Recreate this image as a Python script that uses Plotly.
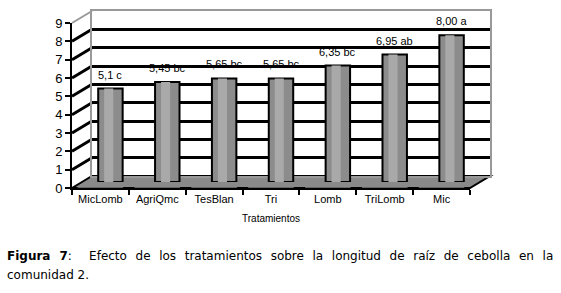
import plotly.graph_objects as go

categories = ["MicLomb", "AgriQmc", "TesBlan", "Tri", "Lomb", "TriLomb", "Mic"]
values = [5.1, 5.45, 5.65, 5.65, 6.35, 6.95, 8.00]
labels = ["5,1 c", "5,45 bc", "5,65 bc", "5,65 bc", "6,35 bc", "6,95 ab", "8,00 a"]
y_ticks = list(range(0, 10))

W, H = 561, 293
FX0, FX1 = 72, 470      # front plane x pixels
FY0, FY9 = 188, 23      # front plane y pixels for 0 and 9
DX, DY = 20, 12         # depth offset (pixels)
YMAX = 9

def px(x):
    return x / W

def py(y):
    return 1 - y / H

def val_to_py(v, depth=0.0):
    return FY0 + (FY9 - FY0) * v / YMAX - DY * depth

fig = go.Figure()

# front axes (ticks, labels)
fig.add_trace(go.Bar(x=categories, y=[0] * len(categories), xaxis="x", yaxis="y",
                     showlegend=False, hoverinfo="skip", marker_color="rgba(0,0,0,0)"))
# back wall (grid)
fig.add_trace(go.Scatter(x=[0, 7], y=[0, 0], xaxis="x2", yaxis="y2", mode="none",
                         showlegend=False, hoverinfo="skip"))
# bars at mid depth
fig.add_trace(go.Bar(x=categories, y=values, xaxis="x3", yaxis="y3", width=0.43,
                     marker=dict(color="#8c8c8c", line=dict(color="black", width=2)),
                     showlegend=False))
fig.add_trace(go.Bar(x=categories, y=values, xaxis="x3", yaxis="y3", width=0.16,
                     offset=-0.11,
                     marker=dict(color="#a9a9a9", line=dict(width=0)),
                     showlegend=False, hoverinfo="skip"))

annotations = []
for c, v, t in zip(categories, values, labels):
    annotations.append(dict(xref="x3", yref="y3", x=c, y=v, text=t, showarrow=False,
                            yanchor="bottom", yshift=6,
                            font=dict(family="Liberation Sans", size=11, color="black")))

layout = dict(
    width=W, height=H, margin=dict(l=0, r=0, t=0, b=0, autoexpand=False),
    paper_bgcolor="white", plot_bgcolor="rgba(0,0,0,0)",
    barmode="overlay",
    xaxis=dict(domain=[px(FX0), px(FX1)], type="category", tickson="boundaries",
               ticks="outside", ticklen=5, tickwidth=2, tickcolor="black",
               showline=True, linecolor="black", linewidth=2, showgrid=False,
               tickfont=dict(family="Liberation Sans", size=11, color="black"),
               title=dict(text="Tratamientos", font=dict(family="Liberation Sans", size=10, color="black"),
                          standoff=11),
               anchor="y", fixedrange=True, automargin=False),
    yaxis=dict(domain=[py(FY0), py(FY9)], range=[0, YMAX], tickvals=y_ticks,
               ticks="outside", ticklen=5, tickwidth=2, tickcolor="black",
               showline=True, linecolor="black", linewidth=2, showgrid=False,
               zeroline=False, tickfont=dict(family="Liberation Sans", size=13, color="black"),
               anchor="x", fixedrange=True, automargin=False),
    xaxis2=dict(domain=[px(FX0 + DX), px(FX1 + DX)], range=[0, 7], showticklabels=False,
                showgrid=False, zeroline=False, showline=True, linecolor="#999999",
                linewidth=2, mirror=True, ticks="", anchor="y2", fixedrange=True,
                automargin=False),
    yaxis2=dict(domain=[py(FY0 - DY), py(FY9 - DY)], range=[0, YMAX],
                tickvals=y_ticks[1:-1], showticklabels=False, showgrid=True,
                gridcolor="black", gridwidth=3, zeroline=False, showline=True,
                linecolor="#999999", linewidth=2, mirror=True, ticks="",
                anchor="x2", fixedrange=True, automargin=False),
    xaxis3=dict(domain=[px(FX0 + DX / 2), px(FX1 + DX / 2)], type="category",
                visible=False, anchor="y3", fixedrange=True, automargin=False),
    yaxis3=dict(domain=[py(FY0 - DY / 2), py(FY9 - DY / 2)], range=[0, YMAX],
                visible=False, anchor="x3", fixedrange=True, automargin=False),
    showlegend=False,
)

shapes = []
# floor
shapes.append(dict(type="path", xref="paper", yref="paper", layer="below",
                   path=f"M {px(FX0)} {py(FY0)} L {px(FX0 + DX)} {py(FY0 - DY)} "
                        f"L {px(FX1 + DX)} {py(FY0 - DY)} L {px(FX1)} {py(FY0)} Z",
                   fillcolor="#8a8a8a", line=dict(color="black", width=2)))
# side wall diagonals
for v in y_ticks[1:]:
    col = "#999999" if v == YMAX else "black"
    w = 2 if v == YMAX else 3
    shapes.append(dict(type="line", xref="paper", yref="paper", layer="below",
                       x0=px(FX0), y0=py(val_to_py(v)),
                       x1=px(FX0 + DX), y1=py(val_to_py(v, 1)),
                       line=dict(color=col, width=w)))
layout["shapes"] = shapes

cap_font = dict(family="DejaVu Sans", size=12, color="black")
annotations.append(
    dict(xref="paper", yref="paper", x=px(5), y=py(256), xanchor="left", yanchor="middle",
         align="left", showarrow=False,
         text="<span style='word-spacing:4.8px'><b>Figura 7</b>:  Efecto de los tratamientos sobre la longitud de raíz de cebolla en la</span>",
         font=cap_font))
annotations.append(
    dict(xref="paper", yref="paper", x=px(5), y=py(275), xanchor="left", yanchor="middle",
         align="left", showarrow=False, text="comunidad 2.", font=cap_font))
layout["annotations"] = annotations

fig.update_layout(**layout)
fig.write_html("out.html", config={"displayModeBar": False},
               post_script="document.body.style.margin='0';document.body.style.padding='0';document.body.style.overflow='hidden';")
